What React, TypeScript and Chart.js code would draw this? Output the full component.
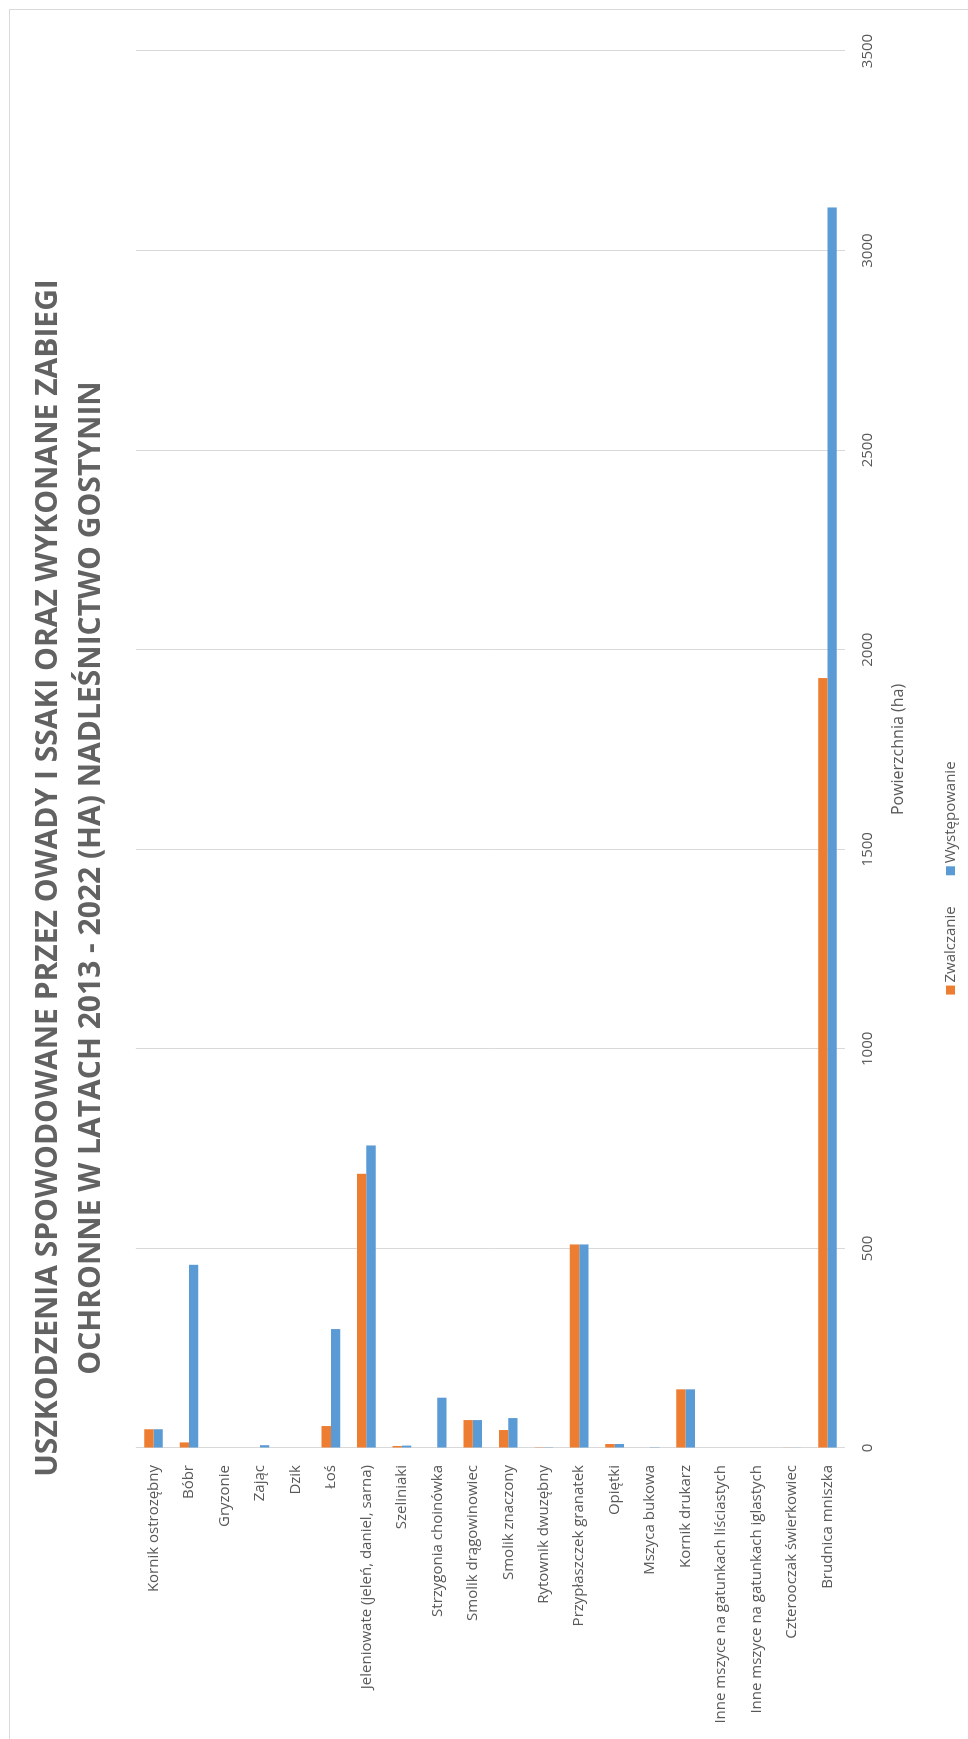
import React, { useEffect, useRef } from "react";
import { Chart, registerables } from "chart.js";

Chart.register(...registerables);

const CATEGORIES: string[] = [
  "Kornik ostrozębny",
  "Bóbr",
  "Gryzonie",
  "Zając",
  "Dzik",
  "Łoś",
  "Jeleniowate (jeleń, daniel, sarna)",
  "Szeliniaki",
  "Strzygonia choinówka",
  "Smolik drągowinowiec",
  "Smolik znaczony",
  "Rytownik dwuzębny",
  "Przypłaszczek granatek",
  "Opiętki",
  "Mszyca bukowa",
  "Kornik drukarz",
  "Inne mszyce na gatunkach liściastych",
  "Inne mszyce na gatunkach iglastych",
  "Czterooczak świerkowiec",
  "Brudnica mniszka",
];

const ZWALCZANIE: number[] = [47, 14, 0, 0, 0, 55, 687, 5, 0, 70, 45, 2, 510, 10, 0, 147, 0, 0, 1, 1929];
const WYSTEPOWANIE: number[] = [47, 459, 0, 7, 0, 298, 758, 6, 126, 70, 75, 2, 510, 10, 2, 147, 0, 0, 1, 3108];

const SERIES_LABELS: string[] = ["Zwalczanie", "Występowanie"];
const SERIES_COLORS: string[] = ["#ED7D31", "#5B9BD5"];

const TITLE_LINES: string[] = [
  "USZKODZENIA SPOWODOWANE PRZEZ OWADY I SSAKI ORAZ WYKONANE ZABIEGI",
  "OCHRONNE W LATACH 2013 - 2022 (HA) NADLEŚNICTWO GOSTYNIN",
];
const AXIS_TITLE = "Powierzchnia (ha)";
const VALUE_MIN = 0;
const VALUE_MAX = 3500;
const VALUE_STEP = 500;

const TEXT_COLOR = "#595959";
const TITLE_COLOR = "#626262";
const FONT = '"Open Sans", "DejaVu Sans", sans-serif';

const CANVAS_W = 1736;
const CANVAS_H = 990;

const overlayPlugin = {
  id: "overlayText",
  afterDraw(chart: any) {
    const ctx: CanvasRenderingContext2D = chart.ctx;
    const w = chart.width;
    ctx.save();
    // title
    ctx.fillStyle = TITLE_COLOR;
    ctx.font = `bold 30px ${FONT}`;
    ctx.textAlign = "center";
    ctx.textBaseline = "middle";
    TITLE_LINES.forEach((t, i) => ctx.fillText(t, w / 2, 38 + i * 43));
    // legend
    ctx.font = `15px ${FONT}`;
    const box = 9;
    const gapBox = 3;
    const gapItem = 31;
    const widths = SERIES_LABELS.map((l) => ctx.measureText(l).width);
    const total =
      widths.reduce((a, b) => a + b, 0) + SERIES_LABELS.length * (box + gapBox) + gapItem * (SERIES_LABELS.length - 1);
    let x = w / 2 - total / 2;
    const y = 940.5;
    ctx.textAlign = "left";
    SERIES_LABELS.forEach((l, i) => {
      ctx.fillStyle = SERIES_COLORS[i];
      ctx.fillRect(x, y - box / 2, box, box);
      x += box + gapBox;
      ctx.fillStyle = TEXT_COLOR;
      ctx.fillText(l, x, y);
      x += widths[i] + gapItem;
    });
    ctx.restore();
  },
};

export default function App() {
  const ref = useRef<HTMLCanvasElement | null>(null);

  useEffect(() => {
    if (!ref.current) return;
    const chart = new Chart(ref.current, {
      type: "bar",
      data: {
        labels: CATEGORIES,
        datasets: [
          {
            label: SERIES_LABELS[0],
            data: ZWALCZANIE,
            backgroundColor: SERIES_COLORS[0],
            categoryPercentage: 0.525,
            barPercentage: 1,
          },
          {
            label: SERIES_LABELS[1],
            data: WYSTEPOWANIE,
            backgroundColor: SERIES_COLORS[1],
            categoryPercentage: 0.525,
            barPercentage: 1,
          },
        ],
      },
      options: {
        indexAxis: "y",
        responsive: false,
        animation: false,
        devicePixelRatio: 1,
        layout: { padding: { top: 125.8, right: 41, bottom: 90, left: 0 } },
        plugins: {
          legend: { display: false },
          title: { display: false },
          tooltip: { enabled: false },
        },
        scales: {
          x: {
            min: VALUE_MIN,
            max: VALUE_MAX,
            ticks: {
              stepSize: VALUE_STEP,
              padding: 14,
              color: TEXT_COLOR,
              font: { family: FONT, size: 15 },
              callback: (v: any) => String(v),
            },
            grid: { color: "#d9d9d9", lineWidth: 1, drawTicks: false },
            border: { display: false },
            title: {
              display: true,
              text: AXIS_TITLE,
              color: TEXT_COLOR,
              font: { family: FONT, size: 16 },
              padding: { top: 0, bottom: 2 },
            },
            afterFit: (s: any) => {
              s.height = 64.8;
            },
          },
          y: {
            ticks: { padding: 17, autoSkip: false, color: TEXT_COLOR, font: { family: FONT, size: 15 } },
            grid: { display: false, drawTicks: false },
            border: { display: false },
            afterFit: (s: any) => {
              s.width = 298;
            },
          },
        },
      },
      plugins: [overlayPlugin],
    } as any);
    return () => chart.destroy();
  }, []);

  return (
    <div style={{ position: "absolute", left: 0, top: 0, width: 968, height: 1739, overflow: "hidden", background: "#fff" }}>
      <div
        style={{
          position: "absolute",
          left: 0,
          top: 0,
          width: 1739,
          height: 968,
          transformOrigin: "0 0",
          transform: "translateY(1739px) rotate(-90deg)",
        }}
      >
        <div
          style={{
            position: "absolute",
            left: -8,
            top: 9,
            width: CANVAS_W,
            height: 1000,
            border: "1px solid #d9d9d9",
            background: "#fff",
          }}
        >
          <canvas ref={ref} width={CANVAS_W} height={CANVAS_H} style={{ display: "block", width: CANVAS_W, height: CANVAS_H }} />
        </div>
      </div>
    </div>
  );
}
